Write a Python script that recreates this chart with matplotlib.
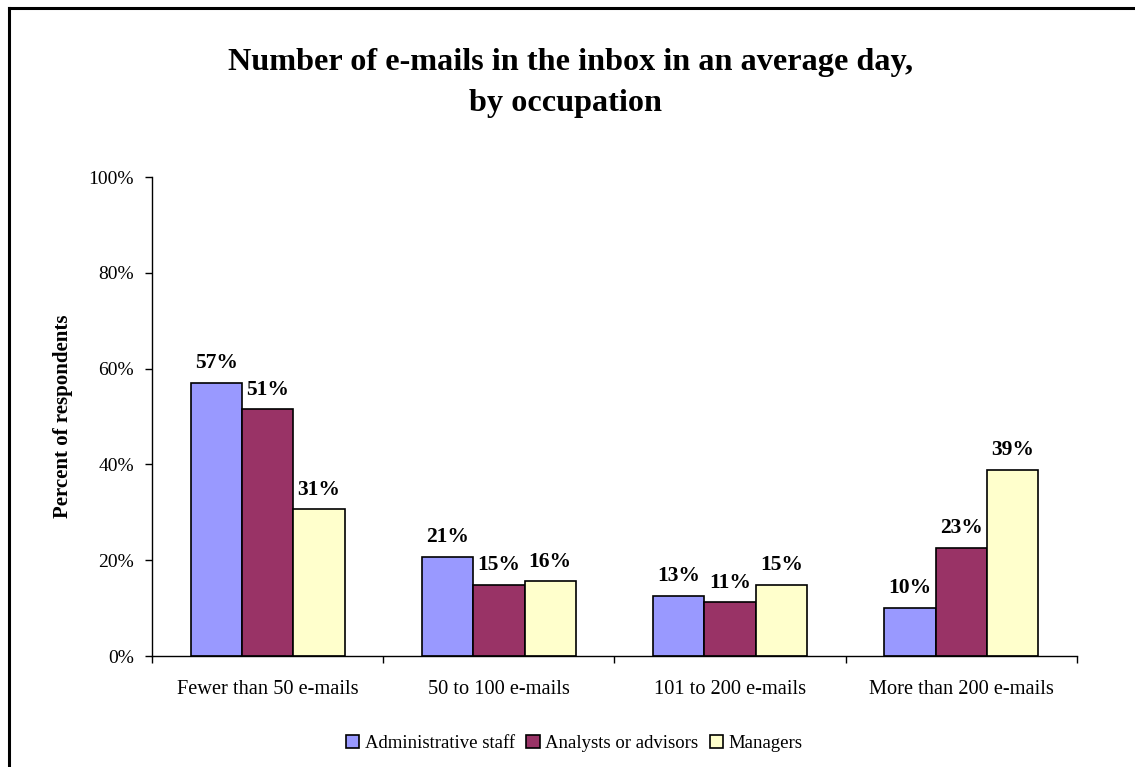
import numpy as np
import matplotlib.pyplot as plt
from matplotlib.lines import Line2D

plt.rcParams["font.family"] = ["Liberation Serif", "DejaVu Serif"]

categories = ["Fewer than 50 e-mails", "50 to 100 e-mails",
              "101 to 200 e-mails", "More than 200 e-mails"]
series = ["Administrative staff", "Analysts or advisors", "Managers"]
admin = [0.570, 0.207, 0.125, 0.100]
analysts = [0.515, 0.149, 0.112, 0.226]
managers = [0.306, 0.156, 0.149, 0.388]
labels = [["57%", "21%", "13%", "10%"],
          ["51%", "15%", "11%", "23%"],
          ["31%", "16%", "15%", "39%"]]
colors = ["#9999FF", "#993366", "#FFFFCC"]

fig = plt.figure(figsize=(11.35, 7.67), dpi=100)
ax = fig.add_axes([0.1339, 0.1447, 0.8150, 0.6245])

x = np.arange(len(categories))
w = 0.222
for i, vals in enumerate([admin, analysts, managers]):
    pos = x + (i - 1) * w
    bars = ax.bar(pos, vals, width=w, color=colors[i], edgecolor="black",
                  linewidth=1.2, label=series[i], zorder=2)
    for b, txt in zip(bars, labels[i]):
        ax.annotate(txt, (b.get_x() + b.get_width() / 2, b.get_height()),
                    xytext=(0, 7), textcoords="offset points",
                    ha="center", va="bottom", fontsize=15.5, fontweight="bold")

ax.set_xlim(-0.5, len(categories) - 0.5)
ax.set_ylim(0, 1)
ax.set_yticks(np.arange(0, 1.01, 0.2))
ax.set_yticklabels([f"{int(round(v * 100))}%" for v in np.arange(0, 1.01, 0.2)],
                   fontsize=14)
ax.set_xticks(x)
ax.set_xticklabels(categories, fontsize=14.7)
ax.set_xticks(np.arange(-0.5, len(categories)), minor=True)
ax.tick_params(axis="x", which="major", length=0, pad=17)
ax.tick_params(axis="x", which="minor", length=5, direction="out", width=1)
ax.tick_params(axis="y", length=5, direction="out", width=1, pad=8)

for s in ["top", "right"]:
    ax.spines[s].set_visible(False)
ax.spines["left"].set_linewidth(1)
ax.spines["bottom"].set_linewidth(1)

ax.set_ylabel("Percent of respondents", fontsize=15, fontweight="bold",
              labelpad=11)

fig.text(0.503, 0.918, "Number of e-mails in the inbox in an average day,",
         ha="center", va="center", fontsize=23.2, fontweight="bold")
fig.text(0.498, 0.865, "by occupation",
         ha="center", va="center", fontsize=23.2, fontweight="bold")

fig.legend(loc="center", bbox_to_anchor=(0.506, 0.031), ncol=3, frameon=False,
           fontsize=13.5, handlelength=0.7, handleheight=0.7,
           handletextpad=0.3, columnspacing=0.6)

# frame of the original chart area (cropped on right and bottom)
fig.add_artist(Line2D([0.0075, 0.0075], [0, 0.9895], transform=fig.transFigure,
                      color="black", linewidth=2.2))
fig.add_artist(Line2D([0.0075, 1.0], [0.9895, 0.9895], transform=fig.transFigure,
                      color="black", linewidth=2.2))

fig.savefig("out.png", dpi=100)
